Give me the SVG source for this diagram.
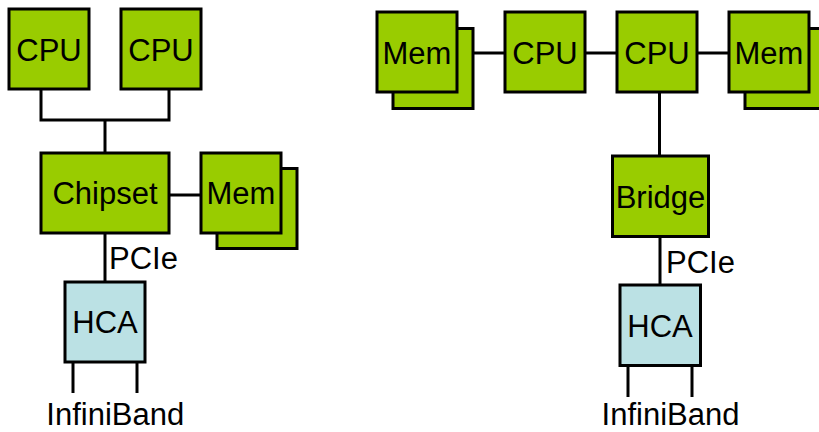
<svg xmlns="http://www.w3.org/2000/svg" width="819" height="432" viewBox="0 0 819 432">
<style>
.g{fill:#99CC00;stroke:#000;stroke-width:3}
.h{fill:#BBE1E4;stroke:#000;stroke-width:3}
.t{font-family:"Liberation Sans",Arial,sans-serif;font-size:31px;fill:#000}
.c{text-anchor:middle}
.w{fill:none;stroke:#000;stroke-width:3}
</style>
<rect width="819" height="432" fill="#fff"/>
<g id="connectors">
<polyline class="w" points="41,89 41,120 169,120 169,89"/>
<line class="w" x1="105" y1="120" x2="105" y2="153"/>
<line class="w" x1="169" y1="195" x2="201" y2="195"/>
<line class="w" x1="105" y1="233" x2="105" y2="282"/>
<line class="w" x1="73" y1="362" x2="73" y2="393"/>
<line class="w" x1="137" y1="362" x2="137" y2="393"/>
<line class="w" x1="473" y1="53" x2="505" y2="53"/>
<line class="w" x1="585" y1="53" x2="617" y2="53"/>
<line class="w" x1="697" y1="53" x2="729" y2="53"/>
<line class="w" x1="659.5" y1="92" x2="659.5" y2="156"/>
<line class="w" x1="660" y1="237" x2="660" y2="285"/>
<line class="w" x1="628" y1="365" x2="628" y2="397"/>
<line class="w" x1="692" y1="365" x2="692" y2="397"/>
</g>
<g id="cpu1"><rect class="g" x="9" y="9" width="80" height="80"/><text class="t c" x="49" y="60.5">CPU</text></g>
<g id="cpu2"><rect class="g" x="121" y="9" width="80" height="80"/><text class="t c" x="161" y="60.5">CPU</text></g>
<g id="chipset"><rect class="g" x="41" y="153" width="128" height="80"/><text class="t c" x="105" y="204">Chipset</text></g>
<g id="mem1"><rect class="g" x="217" y="168.5" width="80" height="80"/><rect class="g" x="201" y="153" width="80" height="80"/><text class="t c" x="241" y="204">Mem</text></g>
<g id="pcie1"><text class="t" x="109" y="269">PCIe</text></g>
<g id="hca1"><rect class="h" x="65" y="282" width="80" height="80"/><text class="t c" x="105" y="333">HCA</text></g>
<g id="ib1"><text class="t c" x="115.3" y="425">InfiniBand</text></g>
<g id="mem2"><rect class="g" x="393" y="28.5" width="80" height="80"/><rect class="g" x="377" y="12" width="80" height="80"/><text class="t c" x="417" y="63.5">Mem</text></g>
<g id="cpu3"><rect class="g" x="505" y="12" width="80" height="80"/><text class="t c" x="545" y="63.5">CPU</text></g>
<g id="cpu4"><rect class="g" x="617" y="12" width="80" height="80"/><text class="t c" x="657" y="63.5">CPU</text></g>
<g id="mem3"><rect class="g" x="745" y="28.5" width="80" height="80"/><rect class="g" x="729" y="12" width="80" height="80"/><text class="t c" x="769" y="63.5">Mem</text></g>
<g id="bridge"><rect class="g" x="612.5" y="156" width="96" height="80.5"/><text class="t c" x="660.5" y="208">Bridge</text></g>
<g id="pcie2"><text class="t" x="666" y="272.5">PCIe</text></g>
<g id="hca2"><rect class="h" x="620" y="285" width="80.5" height="80.5"/><text class="t c" x="660" y="336.5">HCA</text></g>
<g id="ib2"><text class="t c" x="670.5" y="425">InfiniBand</text></g>
</svg>
